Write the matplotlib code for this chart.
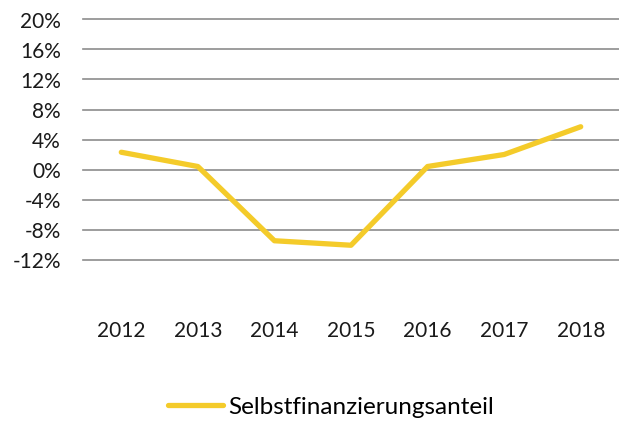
import matplotlib.pyplot as plt
from matplotlib.ticker import FuncFormatter

plt.rcParams['font.family'] = ['Lato', 'DejaVu Sans']

years = ['2012', '2013', '2014', '2015', '2016', '2017', '2018']
anteil = [2.3, 0.4, -9.5, -10.1, 0.4, 2.0, 5.7]
y_ticks = [-12, -8, -4, 0, 4, 8, 12, 16, 20]

fig = plt.figure(figsize=(6.19, 4.21), dpi=100)
ax = fig.add_axes([83 / 619, 1 - 259.5 / 421, 1 - 83 / 619, (259.5 - 19.5) / 421])

x = range(len(years))
ax.plot(x, anteil, color='#F4CB2A', linewidth=3.8, solid_capstyle='round',
        label='Selbstfinanzierungsanteil', zorder=3)

ax.set_xlim(-0.5, len(years) - 0.5)
ax.set_ylim(-12, 20)
ax.set_yticks(y_ticks)
ax.yaxis.set_major_formatter(FuncFormatter(lambda v, p: f'{v:.0f}%'))
ax.set_xticks(list(x))
ax.set_xticklabels(years)

ax.grid(axis='y', color='#8c8c8c', linewidth=1.2)
for gl in ax.get_ygridlines():
    gl.set_clip_on(False)
ax.set_axisbelow(True)
for s in ax.spines.values():
    s.set_visible(False)
ax.tick_params(axis='both', length=0, labelsize=15, colors='#1a1a1a')
ax.tick_params(axis='y', pad=16)
ax.tick_params(axis='x', pad=44)

fig.legend(loc='center', bbox_to_anchor=(0.535, 1 - 407 / 421), frameon=False,
           fontsize=17.5, handlelength=2.26, handletextpad=0.2)

fig.savefig('out.png', dpi=100)
